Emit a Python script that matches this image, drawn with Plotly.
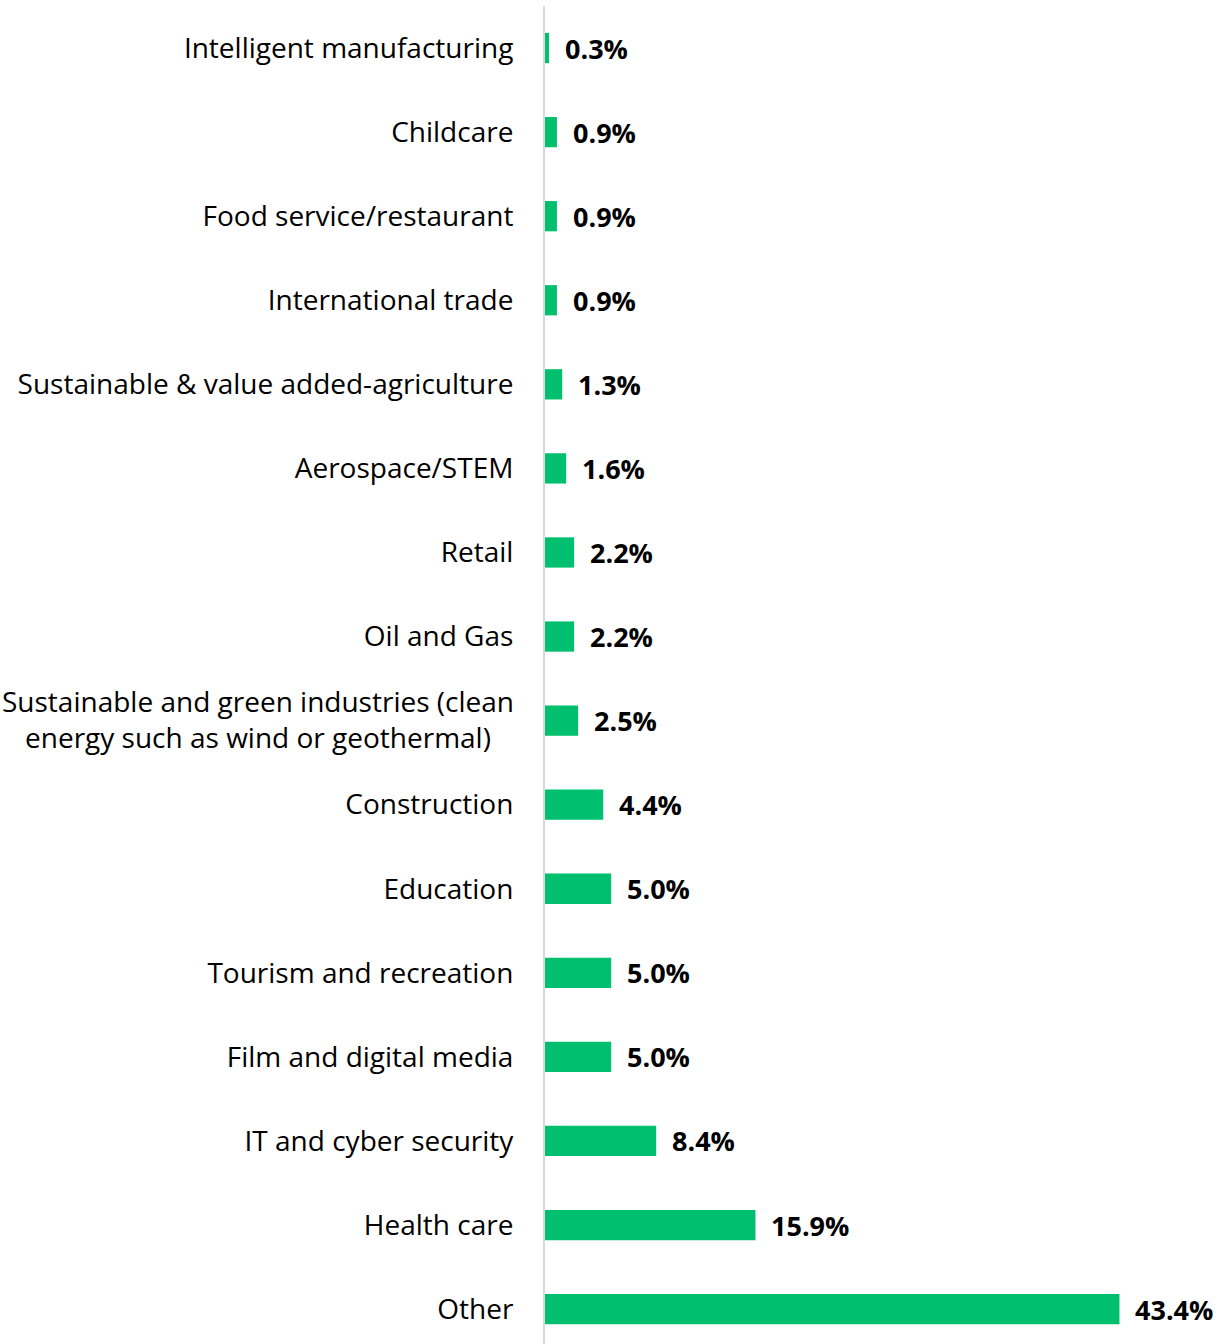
import plotly.graph_objects as go

# Industry shares, listed top to bottom
categories = [
    "Intelligent manufacturing",
    "Childcare",
    "Food service/restaurant",
    "International trade",
    "Sustainable & value added-agriculture",
    "Aerospace/STEM",
    "Retail",
    "Oil and Gas",
    "Sustainable and green industries (clean<br>energy such as wind or geothermal)",
    "Construction",
    "Education",
    "Tourism and recreation",
    "Film and digital media",
    "IT and cyber security",
    "Health care",
    "Other",
]
values = [0.3, 0.9, 0.9, 0.9, 1.3, 1.6, 2.2, 2.2, 2.5, 4.4, 5.0, 5.0, 5.0, 8.4, 15.9, 43.4]

BAR_COLOR = "#00BF6F"
FONT = "Open Sans"
LABEL_SIZE = 28

# Multi-line category is drawn as a centred annotation; the rest use tick labels
ticktext = ["" if "<br>" in c else c for c in categories]

fig = go.Figure(
    go.Bar(
        x=values,
        y=categories,
        orientation="h",
        marker=dict(color=BAR_COLOR, line=dict(width=0)),
        width=0.36,
        hoverinfo="skip",
    )
)

annotations = []
for c, v in zip(categories, values):
    annotations.append(dict(
        x=v, y=c, xref="x", yref="y",
        text=f"<b>{v:.1f}%</b>",
        showarrow=False, xanchor="left", yanchor="middle",
        xshift=14, yshift=0,
        font=dict(family=FONT, size=27, color="#000000"),
    ))
    if "<br>" in c:
        annotations.append(dict(
            x=0, y=c, xref="paper", yref="y",
            text=c, align="center",
            showarrow=False, xanchor="right", yanchor="middle",
            xshift=-29, yshift=2,
            font=dict(family=FONT, size=LABEL_SIZE, color="#000000"),
        ))

fig.update_layout(
    width=1228,
    height=1344,
    margin=dict(l=545, r=0, t=6, b=0),
    paper_bgcolor="white",
    plot_bgcolor="white",
    showlegend=False,
    font=dict(family=FONT, size=LABEL_SIZE, color="#000000"),
    annotations=annotations,
    xaxis=dict(
        range=[0, 51.6],
        showgrid=False,
        zeroline=False,
        showticklabels=False,
        showline=False,
        fixedrange=True,
    ),
    yaxis=dict(
        categoryorder="array",
        categoryarray=categories,
        tickmode="array",
        tickvals=categories,
        ticktext=ticktext,
        range=[15.415, -0.5],
        showgrid=False,
        zeroline=False,
        showline=True,
        linecolor="#D9D9D9",
        linewidth=2,
        ticks="",
        ticklabelstandoff=24,
        tickfont=dict(family=FONT, size=LABEL_SIZE, color="#000000"),
        fixedrange=True,
    ),
)

fig.write_html("out.html")
